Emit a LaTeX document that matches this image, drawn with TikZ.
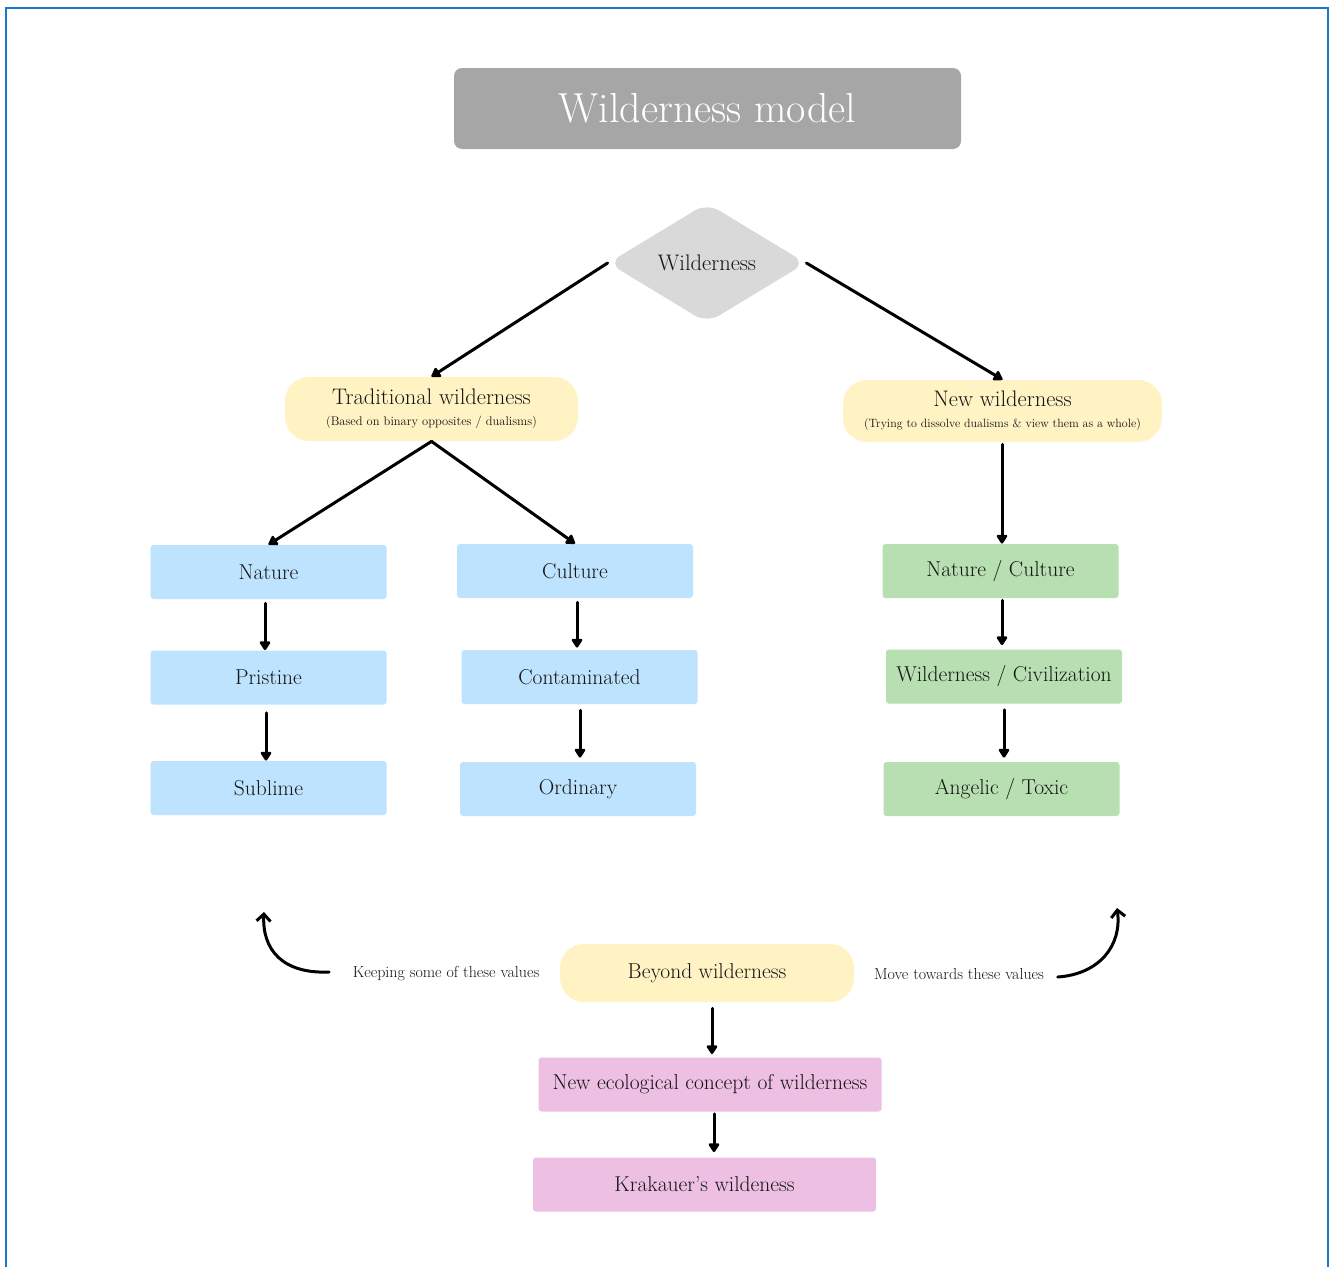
\documentclass[tikz,border=0pt]{standalone}
\usetikzlibrary{shapes.geometric,arrows.meta}
\definecolor{frameblue}{HTML}{1B78C8}
\definecolor{titlegray}{HTML}{A6A6A6}
\definecolor{diamondgray}{HTML}{D9D9D9}
\definecolor{pillyellow}{HTML}{FFF3C4}
\definecolor{boxblue}{HTML}{BEE3FE}
\definecolor{boxgreen}{HTML}{B8DFB2}
\definecolor{boxpink}{HTML}{EDC0E3}
\definecolor{inkgray}{HTML}{141414}
\begin{document}
\begin{tikzpicture}[x=1pt, y=-1pt, thick,
    box/.style={rectangle, rounded corners=3pt, minimum width=236pt, minimum height=54pt,
        inner sep=0pt, text=inkgray, font=\fontsize{21.5}{24}\selectfont},
    bluebox/.style={box, fill=boxblue},
    greenbox/.style={box, fill=boxgreen},
    pinkbox/.style={box, fill=boxpink, minimum width=343pt},
    pill/.style={rectangle, rounded corners=24pt, fill=pillyellow, inner sep=0pt,
        text=inkgray, align=center, font=\fontsize{22.5}{21}\selectfont},
    link/.style={-{Triangle[length=10pt,width=12pt,round]}, line width=3pt, line cap=round},
    curvearrow/.style={-{Straight Barb[length=7pt,width=14pt]}, line width=3pt, line cap=round},
    note/.style={text=inkgray, font=\fontsize{16}{17}\selectfont}]
    \useasboundingbox (0,0) rectangle (1330,1266);
    \draw[frameblue, line width=2.5pt] (6,1270) -- (6,8) -- (1328,8) -- (1328,1270);

    % title and top of the tree
    \node [rectangle, rounded corners=8pt, fill=titlegray, minimum width=507pt, minimum height=81pt,
        text=white, font=\fontsize{42}{44}\selectfont] (title) at (707.5,108.5) {Wilderness model};
    \node [diamond, rounded corners=14pt, fill=diamondgray, minimum width=198pt, minimum height=120pt,
        inner sep=0pt, text=inkgray, font=\fontsize{22.5}{24}\selectfont] (wild) at (707,263) {Wilderness};

    \node [pill, minimum width=293pt, minimum height=64pt] (trad) at (431.5,409)
        {Traditional wilderness\\
         {\fontsize{12.5}{21}\selectfont (Based on binary opposites / dualisms)}};
    \node [pill, minimum width=319pt, minimum height=62pt] (new) at (1002.5,411)
        {New wilderness\\
         {\fontsize{12}{21}\selectfont (Trying to dissolve dualisms \& view them as a whole)}};

    % traditional side
    \node [bluebox] (nature) at (268.5,572) {Nature};
    \node [bluebox] (pristine) at (268.5,677.5) {Pristine};
    \node [bluebox] (sublime) at (268.5,788) {Sublime};
    \node [bluebox] (culture) at (575,571) {Culture};
    \node [bluebox] (contam) at (579.5,677) {Contaminated};
    \node [bluebox] (ordinary) at (578,789) {Ordinary};

    % new side
    \node [greenbox] (natcult) at (1000.5,571) {Nature / Culture};
    \node [greenbox] (wildciv) at (1004,676.5) {Wilderness / Civilization};
    \node [greenbox] (angelic) at (1001.5,789) {Angelic / Toxic};

    % bottom part
    \node [pill, minimum width=294pt, minimum height=58pt, font=\fontsize{21.5}{24}\selectfont]
        (beyond) at (707,973) {Beyond wilderness};
    \node [pinkbox] (ecological) at (710,1084.5) {New ecological concept of wilderness};
    \node [pinkbox] (krakauer) at (704.5,1184.5) {Krakauer's wildeness};

    \node [note] (keep) at (446,974) {Keeping some of these values};
    \node [note] (move) at (959,974) {Move towards these values};
    \coordinate (keeptip) at (264,912);
    \coordinate (movetip) at (1117,908);

    % connectors
    \draw [link] (wild.west) -- (trad.north);
    \draw [link] (wild.east) -- (new.north);
    \draw [link] (trad.south) -- (nature.north);
    \draw [link] (trad.south) -- (culture.north);
    \draw [link, shorten <=2pt] (new.south -| 1002,0) -- (natcult.north -| 1002,0);
    \draw [link, shorten <=4pt] (nature.south -| 265,0) -- (pristine.north -| 265,0);
    \draw [link, shorten <=8pt] (pristine.south -| 266,0) -- (sublime.north -| 266,0);
    \draw [link, shorten <=4pt, shorten >=2pt] (culture.south -| 577,0) -- (contam.north -| 577,0);
    \draw [link, shorten <=6pt, shorten >=4pt] (contam.south -| 580,0) -- (ordinary.north -| 580,0);
    \draw [link, shorten <=2pt, shorten >=4pt] (natcult.south -| 1002,0) -- (wildciv.north -| 1002,0);
    \draw [link, shorten <=6pt, shorten >=4pt] (wildciv.south -| 1004,0) -- (angelic.north -| 1004,0);
    \draw [link, shorten <=6pt, shorten >=3pt] (beyond.south -| 712,0) -- (ecological.north -| 712,0);
    \draw [link, shorten <=2pt, shorten >=5pt] (ecological.south -| 714,0) -- (krakauer.north -| 714,0);
    \draw [curvearrow] (keep.west) ++(-20,-2) .. controls (283,974) and (262,950) .. (keeptip);
    \draw [curvearrow] (move.east) ++(10,3) .. controls (1100,974) and (1122,945) .. (movetip);
\end{tikzpicture}
\end{document}
